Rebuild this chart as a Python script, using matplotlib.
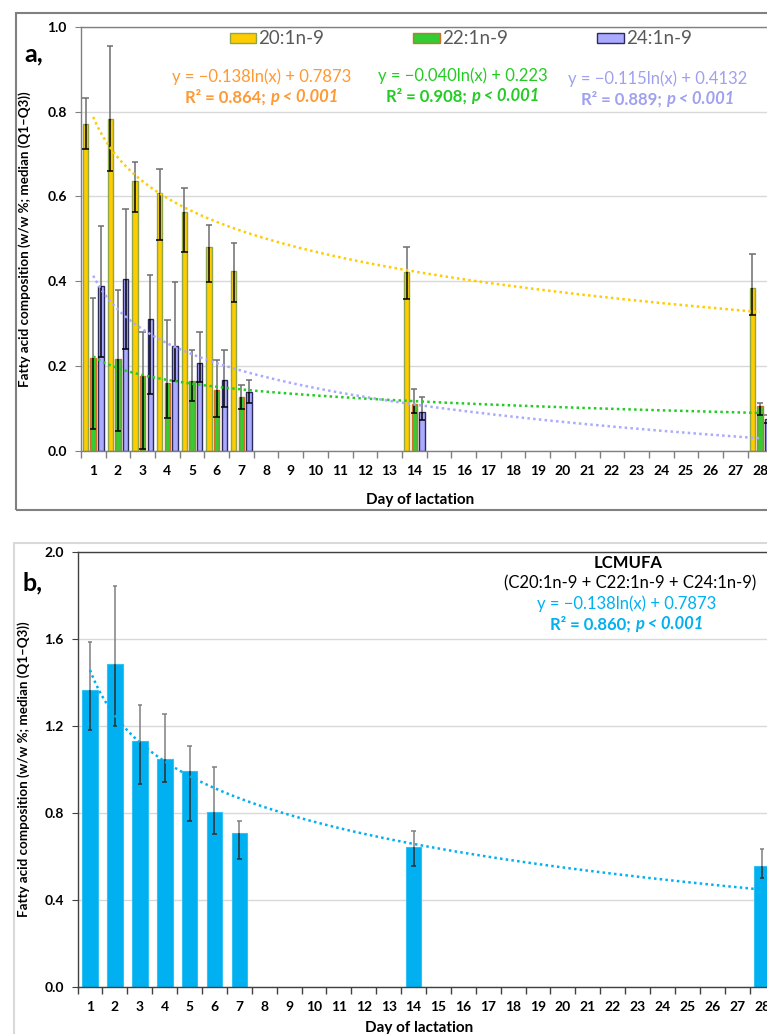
import matplotlib
matplotlib.use("Agg")
import matplotlib.pyplot as plt
import matplotlib.patches as mpatches
import numpy as np

FONT = ['Lato', 'DejaVu Sans']
plt.rcParams['font.family'] = FONT

W, H = 767, 1034

# Sampling days and medians / quartiles (w/w %)
days = [1, 2, 3, 4, 5, 6, 7, 14, 28]

c20_med = [0.771, 0.782, 0.637, 0.608, 0.564, 0.480, 0.425, 0.421, 0.384]
c20_q1 = [0.711, 0.660, 0.563, 0.498, 0.470, 0.398, 0.351, 0.358, 0.321]
c20_q3 = [0.833, 0.955, 0.680, 0.664, 0.619, 0.533, 0.491, 0.480, 0.465]

c22_med = [0.219, 0.216, 0.177, 0.160, 0.165, 0.144, 0.127, 0.111, 0.105]
c22_q1 = [0.051, 0.048, 0.005, 0.077, 0.119, 0.079, 0.099, 0.090, 0.085]
c22_q3 = [0.360, 0.380, 0.281, 0.309, 0.238, 0.214, 0.155, 0.146, 0.112]

c24_med = [0.390, 0.405, 0.311, 0.248, 0.207, 0.167, 0.139, 0.091, 0.075]
c24_q1 = [0.222, 0.240, 0.134, 0.166, 0.162, 0.104, 0.112, 0.073, 0.065]
c24_q3 = [0.531, 0.570, 0.414, 0.399, 0.281, 0.238, 0.167, 0.127, 0.085]

lc_med = [1.363, 1.484, 1.131, 1.045, 0.990, 0.802, 0.705, 0.641, 0.555]
lc_q1 = [1.179, 1.197, 0.931, 0.940, 0.763, 0.702, 0.587, 0.556, 0.501]
lc_q3 = [1.586, 1.841, 1.294, 1.252, 1.107, 1.010, 0.763, 0.716, 0.632]

# Logarithmic trend lines y = slope*ln(x) + icpt
series_names = ['20:1n-9', '22:1n-9', '24:1n-9']
fit_slope = [-0.138, -0.040, -0.115]
fit_icpt = [0.7873, 0.223, 0.4132]
fit_r2 = ['0.864', '0.908', '0.889']
lc_slope, lc_icpt = -0.303, 1.456

day_ticks = list(range(1, 29))


def px(x, y):
    return x / W, 1 - y / H


def ax_rect(left, top, right, bottom):
    return [left / W, 1 - bottom / H, (right - left) / W, (bottom - top) / H]


def put_runs(fig, renderer, x, y, runs, color, size):
    # lay out text pieces with different weights/styles, centred on x
    objs = []
    for s, style in runs:
        t = fig.text(0, 0, s, color=color, fontsize=size,
                     fontweight='bold' if 'b' in style else 'normal',
                     fontstyle='italic' if 'i' in style else 'normal',
                     ha='left', va='center', family=FONT)
        objs.append(t)
    widths = [t.get_window_extent(renderer).width for t in objs]
    start = x - sum(widths) / 2
    for t, w in zip(objs, widths):
        t.set_position(px(start, y))
        start += w


def style_axis(ax, ymax, ystep, spine_col):
    ax.set_xlim(0.5, 28.5)
    ax.set_ylim(0, ymax)
    ax.set_yticks(np.arange(0, ymax + 1e-9, ystep))
    ax.set_yticklabels(['%.1f' % v for v in np.arange(0, ymax + 1e-9, ystep)])
    ax.set_xticks(day_ticks)
    ax.set_xticks(np.arange(0.5, 29, 1), minor=True)
    ax.tick_params(axis='x', which='major', length=0, pad=10)
    ax.tick_params(axis='x', which='minor', length=5, color=spine_col, width=1)
    ax.tick_params(axis='y', length=4, color=spine_col, pad=6)
    for lab in ax.get_xticklabels() + ax.get_yticklabels():
        lab.set_fontweight('bold')
        lab.set_fontsize(10)
        lab.set_color('#000000')
    ax.grid(axis='y', color='#D9D9D9', lw=1)
    ax.set_axisbelow(True)
    ax.spines['right'].set_visible(False)
    for s in ['left', 'bottom', 'top']:
        ax.spines[s].set_color(spine_col)
        ax.spines[s].set_linewidth(1)


def draw_err(ax, x, med, q1, q3, half, col_out, col_in):
    x = np.asarray(x)
    ax.vlines(x, med, q3, color=col_out, lw=1.1, zorder=3)
    ax.hlines(q3, x - half, x + half, color=col_out, lw=1.1, zorder=3)
    ax.vlines(x, q1, med, color=col_in, lw=1.1, zorder=3)
    ax.hlines(q1, x - half, x + half, color=col_in, lw=1.1, zorder=3)


fig = plt.figure(figsize=(W / 100, H / 100), dpi=100)
renderer = fig.canvas.get_renderer()

# panel frames
fig.patches.append(mpatches.Rectangle(px(16, 510), (790 - 16) / W, (510 - 13) / H,
                                      transform=fig.transFigure, fill=False,
                                      ec='#808080', lw=1.5))
fig.patches.append(mpatches.Rectangle(px(14, 1060), (790 - 14) / W, (1060 - 543) / H,
                                      transform=fig.transFigure, fill=False,
                                      ec='#D9D9D9', lw=1.5))

# ---- panel a ----
ax = fig.add_axes(ax_rect(80.85, 26.7, 772.4, 451))
style_axis(ax, 1.0, 0.2, '#808080')

bar_w = 0.22
offsets = [-0.31, 0.0, 0.31]
face = ['#FFCC00', '#33CC33', '#AAAAFF']
edge = ['#8FA64A', '#D0702A', '#2B2B5C']
meds = [c20_med, c22_med, c24_med]
q1s = [c20_q1, c22_q1, c24_q1]
q3s = [c20_q3, c22_q3, c24_q3]
x_days = np.array(days, dtype=float)
for k in range(3):
    xs = x_days + offsets[k]
    ax.bar(xs, meds[k], width=bar_w, color=face[k], edgecolor=edge[k], lw=1, zorder=2)
    draw_err(ax, xs, meds[k], q1s[k], q3s[k], 0.13, '#6E6E6E', '#000000')

xx = np.linspace(1, 28, 300)
line_col = ['#FFCC00', '#22CC22', '#AAAAFF']
for k in range(3):
    ax.plot(xx, fit_slope[k] * np.log(xx) + fit_icpt[k], color=line_col[k],
            lw=1.8, ls=(0, (1, 1.3)), zorder=4)

ax.set_ylabel('Fatty acid composition (w/w %; median (Q1\u2013Q3))',
              fontweight='bold', fontsize=9.6)
ax.yaxis.set_label_coords((31 - 80.85) / (772.4 - 80.85), 0.5)
ax.set_xlabel('Day of lactation', fontweight='bold', fontsize=11)
ax.xaxis.set_label_coords(0.49, -0.098)

fig.text(*px(24, 54), 'a,', fontsize=18, fontweight='bold', va='center', ha='left')

# legend
leg_x = [229.5, 413.3, 597.3]
for k in range(3):
    fig.patches.append(mpatches.Rectangle(px(leg_x[k], 43.3), 26.5 / W, 10.5 / H,
                                          transform=fig.transFigure, fc=face[k],
                                          ec=edge[k], lw=1))
    fig.text(*px(leg_x[k] + 28.5, 38.5), series_names[k], fontsize=13.5,
             color='#595959', va='center', ha='left')

# fit equations
txt_col = ['#FF9933', '#22CC22', '#A0A0F0']
eq_x = [262, 463, 658]
eq_y = [77, 76, 79]
for k in range(3):
    eq = 'y = \u2212%.3fln(x) + %s' % (-fit_slope[k], ('%g' % fit_icpt[k]))
    put_runs(fig, renderer, eq_x[k], eq_y[k], [(eq, '')], txt_col[k], 12)
    put_runs(fig, renderer, eq_x[k], eq_y[k] + 20,
             [('R\u00b2 = %s; ' % fit_r2[k], 'b'), ('p < 0.001', 'bi')], txt_col[k], 12)

# ---- panel b ----
bx = fig.add_axes(ax_rect(77.6, 551.7, 774.5, 986.7))
style_axis(bx, 2.0, 0.4, '#404040')
bx.bar(x_days, lc_med, width=0.63, color='#00B0F0', edgecolor='#33C0F3', lw=0.8, zorder=2)
draw_err(bx, x_days, lc_med, lc_q1, lc_q3, 0.09, '#808080', '#303030')
bx.plot(xx, lc_slope * np.log(xx) + lc_icpt, color='#00B0F0', lw=1.8,
        ls=(0, (1, 1.3)), zorder=4)

bx.set_ylabel('Fatty acid composition (w/w %; median (Q1\u2013Q3))',
              fontweight='bold', fontsize=9.6)
bx.yaxis.set_label_coords((30 - 77.6) / (774.5 - 77.6), 0.5)
bx.set_xlabel('Day of lactation', fontweight='bold', fontsize=11)
bx.xaxis.set_label_coords(0.49, -0.078)

fig.text(*px(22, 583), 'b,', fontsize=18, fontweight='bold', va='center', ha='left')

put_runs(fig, renderer, 628, 563, [('LCMUFA', 'b')], '#000000', 12)
put_runs(fig, renderer, 630, 583, [('(C20:1n-9 + C22:1n-9 + C24:1n-9)', '')], '#000000', 12)
put_runs(fig, renderer, 627, 604, [('y = \u22120.138ln(x) + 0.7873', '')], '#00B0F0', 12)
put_runs(fig, renderer, 627, 624, [('R\u00b2 = 0.860; ', 'b'), ('p < 0.001', 'bi')],
         '#00B0F0', 12)

fig.savefig('out.png', dpi=100)
